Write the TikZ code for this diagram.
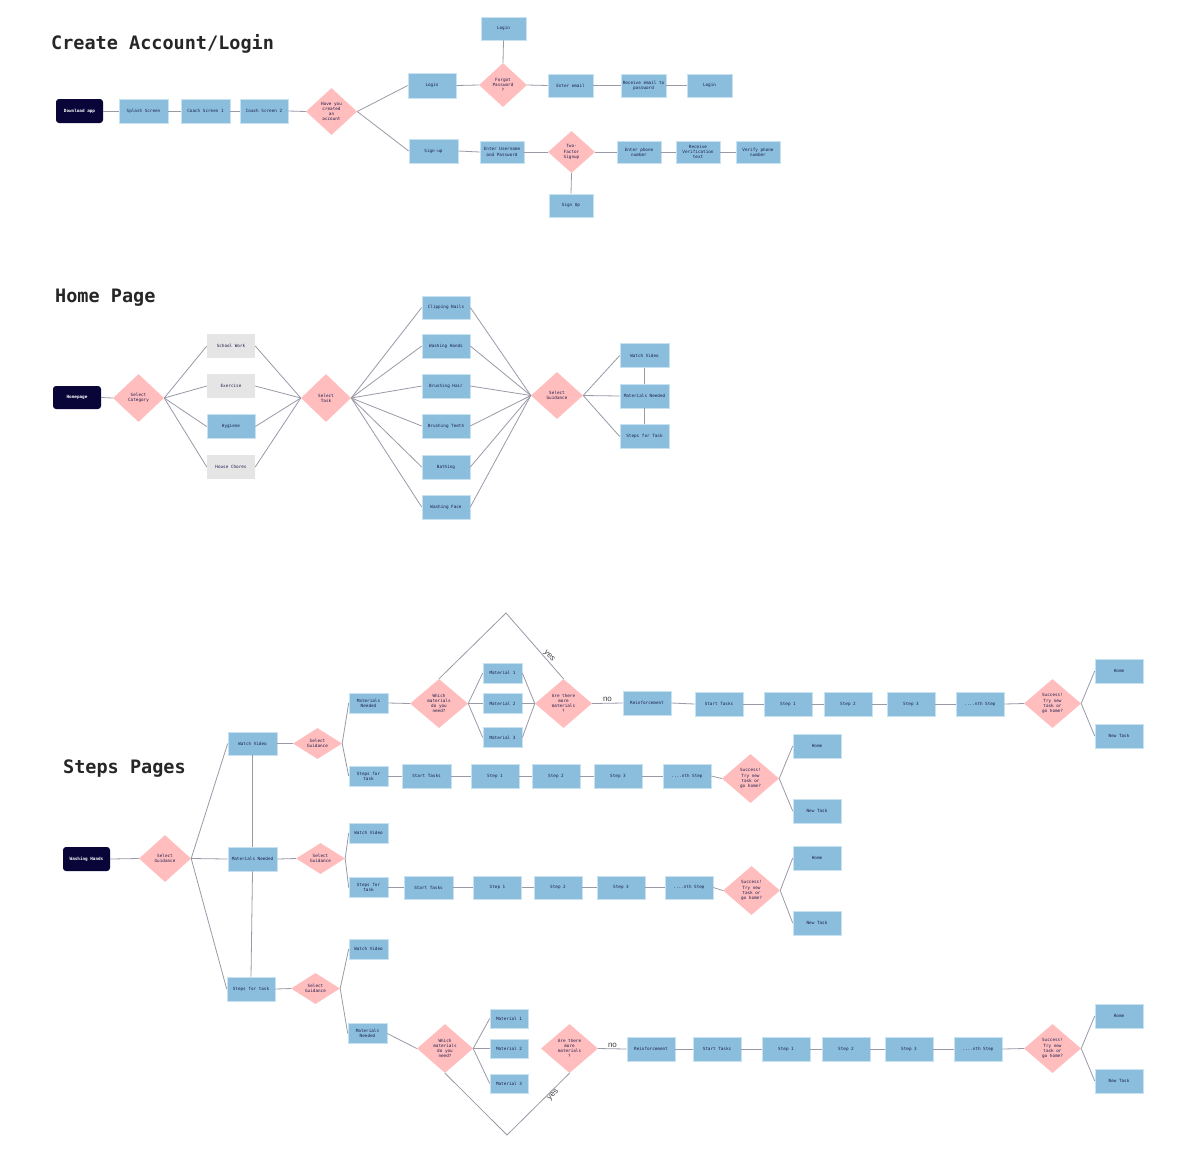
\documentclass[tikz,border=0pt]{standalone}
\usepackage{fontspec}
\setmonofont{DejaVu Sans Mono}
\newfontfamily\lblfont{Liberation Sans}
\usetikzlibrary{shapes.geometric}
\definecolor{boxblue}{HTML}{8ABEDC}
\definecolor{boxedge}{HTML}{C9E2F1}
\definecolor{dmpink}{HTML}{FFBDBD}
\definecolor{greybox}{HTML}{E5E5E5}
\definecolor{darknode}{HTML}{0A0538}
\definecolor{txtnavy}{HTML}{1E1E50}
\definecolor{lncol}{HTML}{9A99A8}
\tikzset{
  base/.style={inner sep=0pt, align=center, font=\ttfamily\fontsize{4.3}{5.2}\selectfont, text=txtnavy},
  bx/.style={base, rectangle, fill=boxblue, draw=boxedge, line width=0.6pt, minimum width=48pt, minimum height=24pt},
  sbx/.style={bx, minimum width=39pt, minimum height=20pt},
  gbx/.style={base, rectangle, fill=greybox, minimum width=48pt, minimum height=24pt},
  dk/.style={base, rectangle, rounded corners=3pt, fill=darknode, text=white, font=\ttfamily\bfseries\fontsize{4.3}{5.2}\selectfont, minimum width=47pt, minimum height=24pt},
  dm/.style={base, diamond, fill=dmpink, minimum width=57pt, minimum height=49pt},
  ln/.style={draw=lncol, line width=0.8pt},
  ttl/.style={anchor=base west, inner sep=0pt, font=\ttfamily\bfseries\fontsize{18.5}{20}\selectfont, text=black!85},
  lbl/.style={inner sep=0pt, font=\lblfont\fontsize{8}{9}\selectfont, text=black!75}
}
\begin{document}
\begin{tikzpicture}[x=1pt,y=-1pt]
\useasboundingbox (0,0) rectangle (1193,1163);
\fill[white] (0,0) rectangle (1193,1163);

% ---------------- Create Account/Login ----------------
\node[ttl] (t1) at (51,49) {Create Account/Login};
\node[dk] (dl) at (79.5,111) {Download app};
\node[bx, minimum width=49pt] (splash) at (143.5,111) {Splash Screen};
\node[bx, minimum width=49pt] (c1) at (205.5,111) {Coach Screen 1};
\node[bx] (c2) at (264,111) {Coach Screen 2};
\node[dm, minimum width=51pt, minimum height=47pt] (have) at (331.5,111.5) {Have you\\created\\an\\account};
\node[bx, minimum height=25pt] (login1) at (432,85.5) {Login};
\node[dm, minimum width=48pt, minimum height=44pt] (forgot) at (503,85) {Forgot\\Password\\?};
\node[bx, minimum width=45pt, minimum height=23pt] (login0) at (503.5,28.5) {Login};
\node[bx, minimum width=45pt, minimum height=23pt] (email) at (570.5,85.5) {Enter email};
\node[bx, minimum width=45pt, minimum height=23pt] (recv) at (643.5,85.5) {Receive email to\\password};
\node[bx, minimum width=45pt, minimum height=23pt] (login2) at (709.5,85.5) {Login};
\node[bx, minimum width=49pt] (signup) at (433.5,151) {Sign-up};
\node[bx, minimum width=44pt, minimum height=22pt] (user) at (502,152) {Enter Username\\and Password};
\node[dm, minimum width=47pt, minimum height=42pt] (twof) at (571.5,152) {Two-\\Factor\\Signup};
\node[bx, minimum width=44pt, minimum height=23pt] (signup2) at (571,205.5) {Sign Up};
\node[bx, minimum width=44pt, minimum height=22pt] (phone) at (639,152) {Enter phone\\number};
\node[bx, minimum width=44pt, minimum height=22pt] (verif) at (698,152) {Receive\\Verification\\text};
\node[bx, minimum width=44pt, minimum height=22pt] (verify) at (758,152) {Verify phone\\number};

\draw[ln] (dl.east) -- (splash.west);
\draw[ln] (splash.east) -- (c1.west);
\draw[ln] (c1.east) -- (c2.west);
\draw[ln] (c2.east) -- (have.west);
\draw[ln] (have.east) -- (login1.west);
\draw[ln] (have.east) -- (signup.west);
\draw[ln] (login1.east) -- (forgot.west);
\draw[ln] (forgot.north) -- (login0.south);
\draw[ln] (forgot.east) -- (email.west);
\draw[ln] (email.east) -- (recv.west);
\draw[ln] (recv.east) -- (login2.west);
\draw[ln] (signup.east) -- (user.west);
\draw[ln] (user.east) -- (twof.west);
\draw[ln] (twof.east) -- (phone.west);
\draw[ln] (phone.east) -- (verif.west);
\draw[ln] (verif.east) -- (verify.west);
\draw[ln] (twof.south) -- (signup2.north);

% ---------------- Home Page ----------------
\node[ttl] (t2) at (55,302) {Home Page};
\node[dk, minimum width=48pt, minimum height=23pt] (home) at (77,397.5) {Homepage};
\node[dm, minimum width=51pt, minimum height=48pt] (selcat) at (138.5,398) {Select\\Category};
\node[gbx] (school) at (231,346) {School Work};
\node[gbx] (exer) at (231,386) {Exercise};
\node[bx] (hyg) at (231,426.5) {Hygiene};
\node[gbx] (house) at (231,467) {House Chores};
\node[dm, minimum width=50pt, minimum height=48pt] (seltask) at (326,398) {Select\\Task};
\node[bx, minimum height=23pt] (k1) at (446,307.5) {Clipping Nails};
\node[bx] (k2) at (446,346) {Washing Hands};
\node[bx] (k3) at (446,386) {Brushing Hair};
\node[bx] (k4) at (446,426) {Brushing Teeth};
\node[bx] (k5) at (446,467) {Bathing};
\node[bx] (k6) at (446,507) {Washing Face};
\node[dm, minimum width=52pt, minimum height=47pt] (selg) at (557,395.5) {Select\\Guidance};
\node[bx, minimum width=49pt] (hwv) at (644.5,355.5) {Watch Video};
\node[bx, minimum width=49pt] (hmn) at (644.5,396) {Materials Needed};
\node[bx, minimum width=49pt] (hst) at (644.5,436.5) {Steps for Task};

\draw[ln] (home.east) -- (selcat.west);
\foreach \n in {school,exer,hyg,house}{
  \draw[ln] (selcat.east) -- (\n.west);
  \draw[ln] (\n.east) -- (seltask.west);
}
\foreach \n in {k1,k2,k3,k4,k5,k6}{
  \draw[ln] (seltask.east) -- (\n.west);
  \draw[ln] (\n.east) -- (selg.west);
}
\foreach \n in {hwv,hmn,hst}{
  \draw[ln] (selg.east) -- (\n.west);
}
\draw[ln] (hwv.south) -- (hmn.north);
\draw[ln] (hmn.south) -- (hst.north);

% ---------------- Steps Pages ----------------
\node[ttl] (t3) at (63,773) {Steps Pages};
\node[dk] (wh) at (86.5,859) {Washing Hands};
\node[dm, minimum width=52pt, minimum height=47pt] (sg) at (165,858.5) {Select\\Guidance};
\node[bx, minimum width=49pt, minimum height=23pt] (swv) at (252.5,743.5) {Watch Video};
\node[bx, minimum width=49pt] (smn) at (252.5,859) {Materials Needed};
\node[bx] (sst) at (251,989) {Steps for task};
\node[dm, minimum width=49pt, minimum height=31pt] (g1) at (317.5,743.5) {Select\\Guidance};
\node[dm, minimum width=49pt, minimum height=31pt] (g2) at (320.5,858.5) {Select\\Guidance};
\node[dm, minimum width=49pt, minimum height=31pt] (g3) at (315.5,988.5) {Select\\Guidance};

\draw[ln] (wh.east) -- (sg.west);
\draw[ln] (sg.east) -- (swv.west);
\draw[ln] (sg.east) -- (smn.west);
\draw[ln] (sg.east) -- (sst.west);
\draw[ln] (swv.south) -- (smn.north);
\draw[ln] (smn.south) -- (sst.north);
\draw[ln] (swv.east) -- (g1.west);
\draw[ln] (smn.east) -- (g2.west);
\draw[ln] (sst.east) -- (g3.west);

% Row A
\node[sbx] (amn) at (368.5,703) {Materials\\Needed};
\node[sbx] (ast) at (368.5,776) {Steps for\\task};
\node[dm, minimum width=58pt] (awhich) at (439,703.5) {Which\\materials\\do you\\need?};
\node[sbx] (am1) at (502.5,673) {Material 1};
\node[sbx] (am2) at (502.5,703.5) {Material 2};
\node[sbx] (am3) at (502.5,737.5) {Material 3};
\node[dm] (amore) at (563.5,703.5) {Are there\\more\\materials\\?};
\coordinate (aapex) at (506,613);
\node[bx] (are) at (647,703) {Reinforcement};
\node[bx] (as0) at (719,704) {Start Tasks};
\node[bx] (as1) at (788,704) {Step 1};
\node[bx] (as2) at (848,704) {Step 2};
\node[bx] (as3) at (911,704) {Step 3};
\node[bx] (asn) at (980,704) {....nth Step};
\node[dm] (asuc) at (1052.5,703.5) {Success!\\Try new\\task or\\go home?};
\node[bx] (ahome) at (1119,671) {Home};
\node[bx] (anew) at (1119,736) {New Task};

\draw[ln] (g1.east) -- (amn.west);
\draw[ln] (g1.east) -- (ast.west);
\draw[ln] (amn.east) -- (awhich.west);
\foreach \n in {am1,am2,am3}{
  \draw[ln] (awhich.east) -- (\n.west);
  \draw[ln] (\n.east) -- (amore.west);
}
\draw[ln] (awhich.north) -- (aapex) -- node[lbl, pos=0.62, above right=0.5pt, rotate=-49] (ayes) {yes} (amore.north);
\draw[ln] (amore.east) -- node[lbl, above=1pt] (ano) {no} (are.west);
\draw[ln] (are.east) -- (as0.west);
\draw[ln] (as0.east) -- (as1.west);
\draw[ln] (as1.east) -- (as2.west);
\draw[ln] (as2.east) -- (as3.west);
\draw[ln] (as3.east) -- (asn.west);
\draw[ln] (asn.east) -- (asuc.west);
\draw[ln] (asuc.east) -- (ahome.west);
\draw[ln] (asuc.east) -- (anew.west);

% Row B
\node[bx, minimum width=49pt] (bs0) at (426.5,776) {Start Tasks};
\node[bx] (bs1) at (495,776) {Step 1};
\node[bx] (bs2) at (556,776) {Step 2};
\node[bx] (bs3) at (618,776) {Step 3};
\node[bx] (bsn) at (687,776) {....nth Step};
\node[dm] (bsuc) at (750.5,778.5) {Success!\\Try new\\task or\\go home?};
\node[bx] (bhome) at (817,746) {Home};
\node[bx] (bnew) at (817,811) {New Task};

\draw[ln] (ast.east) -- (bs0.west);
\draw[ln] (bs0.east) -- (bs1.west);
\draw[ln] (bs1.east) -- (bs2.west);
\draw[ln] (bs2.east) -- (bs3.west);
\draw[ln] (bs3.east) -- (bsn.west);
\draw[ln] (bsn.east) -- (bsuc.west);
\draw[ln] (bsuc.east) -- (bhome.west);
\draw[ln] (bsuc.east) -- (bnew.west);

% Row C
\node[sbx] (cwv) at (368.5,833) {Watch Video};
\node[sbx] (cst) at (368.5,887.5) {Steps for\\task};
\node[bx, minimum width=49pt, minimum height=23pt] (cs0) at (428.5,887.5) {Start Tasks};
\node[bx, minimum height=23pt] (cs1) at (497.5,887.5) {Step 1};
\node[bx, minimum height=23pt] (cs2) at (558,887.5) {Step 2};
\node[bx, minimum height=23pt] (cs3) at (621,887.5) {Step 3};
\node[bx, minimum height=23pt] (csn) at (689,887.5) {....nth Step};
\node[dm] (csuc) at (751.5,890.5) {Success!\\Try new\\task or\\go home?};
\node[bx] (chome) at (817,858) {Home};
\node[bx] (cnew) at (817,923) {New Task};

\draw[ln] (g2.east) -- (cwv.west);
\draw[ln] (g2.east) -- (cst.west);
\draw[ln] (cst.east) -- (cs0.west);
\draw[ln] (cs0.east) -- (cs1.west);
\draw[ln] (cs1.east) -- (cs2.west);
\draw[ln] (cs2.east) -- (cs3.west);
\draw[ln] (cs3.east) -- (csn.west);
\draw[ln] (csn.east) -- (csuc.west);
\draw[ln] (csuc.east) -- (chome.west);
\draw[ln] (csuc.east) -- (cnew.west);

% Row D
\node[sbx] (dwv) at (368.5,949) {Watch Video};
\node[sbx] (dmn) at (367.5,1033.5) {Materials\\Needed};
\node[dm, minimum width=56pt] (dwhich) at (445,1048.5) {Which\\materials\\do you\\need?};
\node[sbx, minimum width=38pt, minimum height=19pt] (dm1) at (509,1018.5) {Material 1};
\node[sbx, minimum width=38pt, minimum height=19pt] (dm2) at (509,1048.5) {Material 2};
\node[sbx, minimum width=38pt, minimum height=19pt] (dm3) at (509,1083.5) {Material 3};
\node[dm] (dmore) at (569.5,1048.5) {Are there\\more\\materials\\?};
\coordinate (dapex) at (507,1135);
\node[bx] (dre) at (651,1049) {Reinforcement};
\node[bx] (ds0) at (717,1049) {Start Tasks};
\node[bx] (ds1) at (786,1049) {Step 1};
\node[bx] (ds2) at (846,1049) {Step 2};
\node[bx] (ds3) at (909,1049) {Step 3};
\node[bx] (dsn) at (978,1049) {....nth Step};
\node[dm] (dsuc) at (1052.5,1048.5) {Success!\\Try new\\task or\\go home?};
\node[bx] (dhome) at (1119,1016) {Home};
\node[bx] (dnew) at (1119,1081) {New Task};

\draw[ln] (g3.east) -- (dwv.west);
\draw[ln] (g3.east) -- (dmn.west);
\draw[ln] (dmn.east) -- (dwhich.west);
\foreach \n in {dm1,dm2,dm3}{
  \draw[ln] (dwhich.east) -- (\n.west);
}
\draw[ln] (dwhich.south) -- (dapex) -- node[lbl, pos=0.62, below right=0.5pt, rotate=45] (dyes) {yes} (dmore.south);
\draw[ln] (dmore.east) -- node[lbl, above=1pt] (dno) {no} (dre.west);
\draw[ln] (dre.east) -- (ds0.west);
\draw[ln] (ds0.east) -- (ds1.west);
\draw[ln] (ds1.east) -- (ds2.west);
\draw[ln] (ds2.east) -- (ds3.west);
\draw[ln] (ds3.east) -- (dsn.west);
\draw[ln] (dsn.east) -- (dsuc.west);
\draw[ln] (dsuc.east) -- (dhome.west);
\draw[ln] (dsuc.east) -- (dnew.west);
\end{tikzpicture}
\end{document}
